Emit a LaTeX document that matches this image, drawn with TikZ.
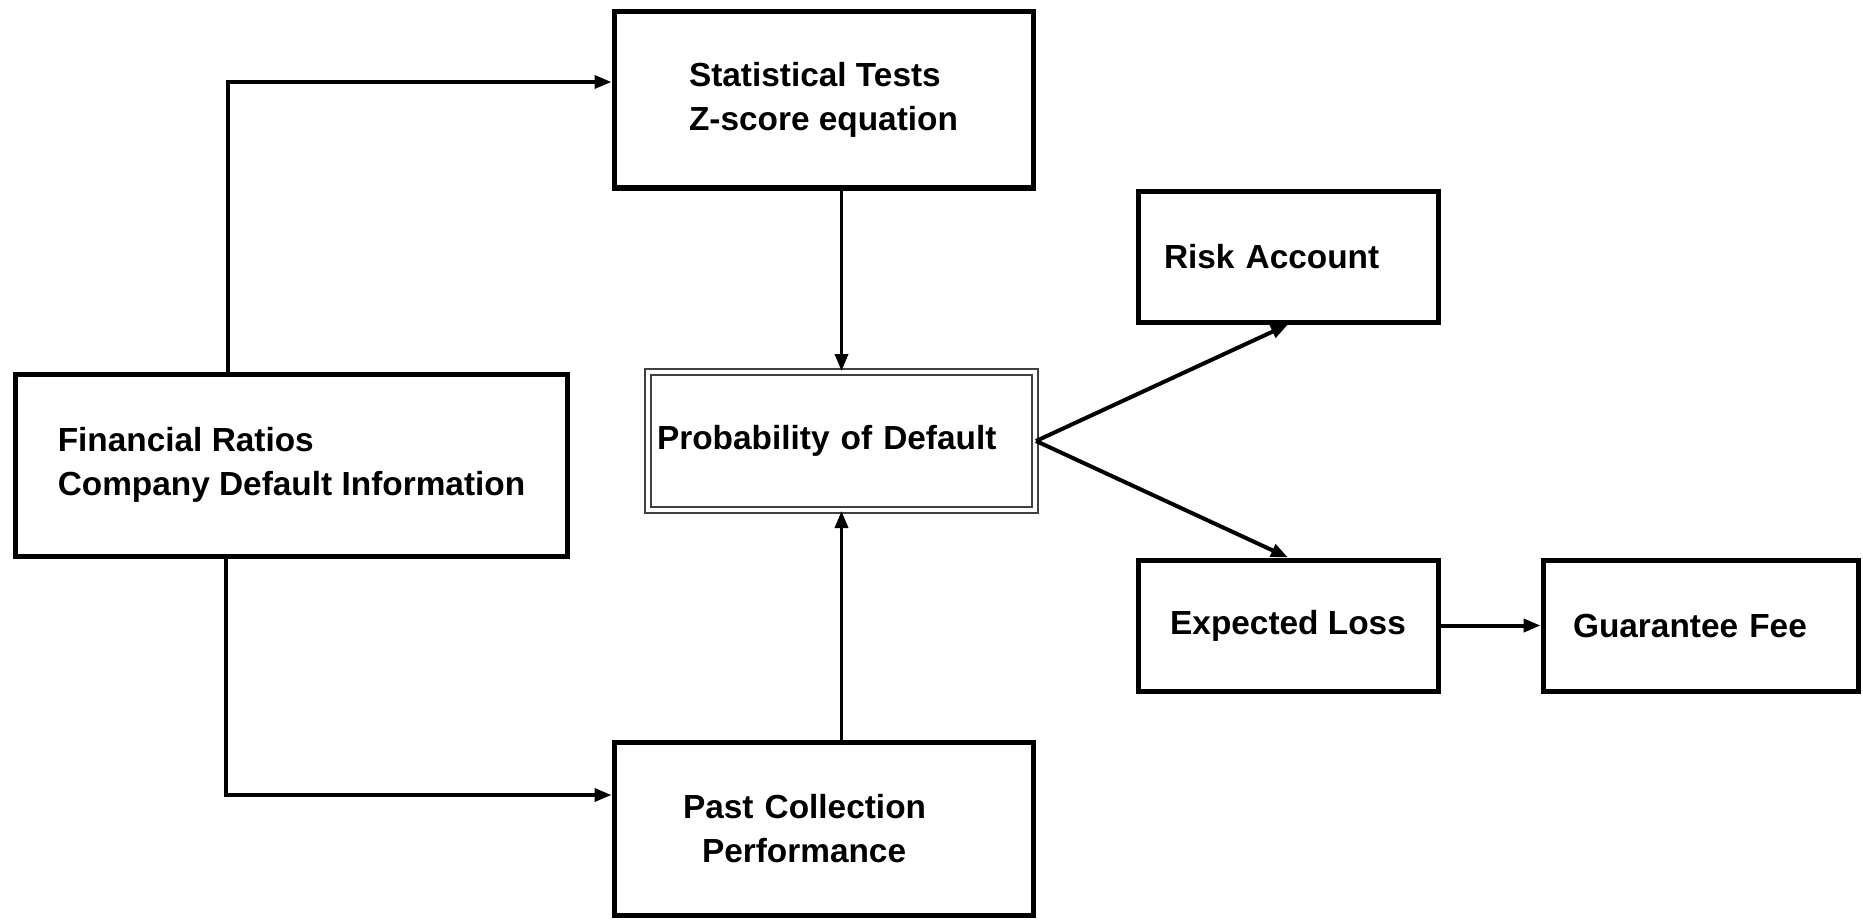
\documentclass[tikz,border=0pt]{standalone}
\usepackage{fontspec}
\setmainfont{Liberation Sans}
\usepackage{tikz}
\usetikzlibrary{positioning, arrows.meta}

\begin{document}
\begin{tikzpicture}[
  box/.style={rectangle, draw=black, line width=0.05cm, inner sep=0pt,
    font=\fontsize{9.5}{12.4}\selectfont\bfseries, align=left},
  dbox/.style={rectangle, draw=black!75, line width=0.02cm, double,
    double distance=0.04cm, inner sep=0pt,
    font=\fontsize{9.5}{12.4}\selectfont\bfseries, align=left},
  arr/.style={-{Triangle[length=0.17cm, width=0.13cm]}, line width=0.035cm},
  darr/.style={-{Triangle[length=0.17cm, width=0.13cm]}, line width=0.04cm}
]
\useasboundingbox (0,0) rectangle (18.63,-9.21);

% --- inputs (left) ---
\node[box, minimum width=5.51cm, minimum height=1.82cm] (fin) at (2.915, -4.65)
  {Financial Ratios\\Company Default Information};

% --- middle column ---
\node[box, minimum width=4.19cm, minimum height=1.76cm] (stat) at (8.235, -1.00)
  {Statistical Tests\\Z-score equation};
\node[dbox, minimum width=3.87cm, minimum height=1.38cm, text width=3.69cm,
  inner xsep=0.09cm] (prob) at (8.415, -4.41) {Probability of Default};
\node[box, minimum width=4.19cm, minimum height=1.73cm, text width=2.81cm,
  inner xsep=0.69cm] (past) at (8.235, -8.285)
  {Past Collection\\\hspace*{0.19cm}Performance};

% --- outputs (right) ---
\node[box, minimum width=3.00cm, minimum height=1.31cm, text width=2.48cm,
  inner xsep=0.26cm] (risk) at (12.88, -2.565) {Risk Account};
\node[box, minimum width=3.00cm, minimum height=1.31cm] (expected)
  at (12.88, -6.255) {Expected Loss};
\node[box, minimum width=3.15cm, minimum height=1.31cm, text width=2.55cm,
  inner xsep=0.30cm] (guarantee) at (17.005, -6.255) {Guarantee Fee};

% --- connectors ---
\draw[arr] ([xshift=-0.635cm]fin.north) |- ([yshift=0.18cm]stat.west);
\draw[arr] ([xshift=-0.655cm]fin.south) |- ([yshift=0.335cm]past.west);
\draw[arr] (stat.south -| prob.north) -- (prob.north);
\draw[arr] (past.north -| prob.south) -- (prob.south);
\draw[darr] (prob.east) -- (risk.south);
\draw[darr] (prob.east) -- (expected.north);
\draw[darr] (expected.east) -- (guarantee.west);
\end{tikzpicture}
\end{document}
